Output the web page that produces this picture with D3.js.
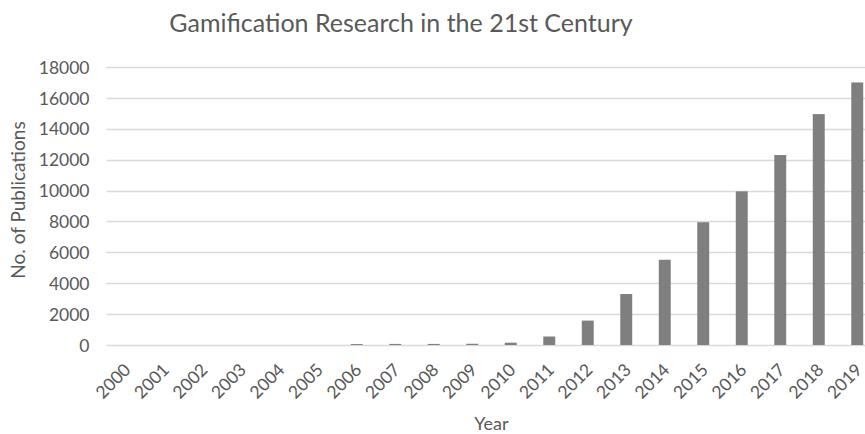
<!DOCTYPE html>
<html lang="en">
<head>
    <meta charset="UTF-8">
    <title>Gamification Research in the 21st Century</title>
    <style>
        body { margin: 0; padding: 0; overflow: hidden; background: #fff; }
        text { font-family: Lato, "Open Sans", sans-serif; fill: #595959; }
    </style>
</head>
<body>
    <script src="https://d3js.org/d3.v7.min.js"></script>
    <script>
        // Data
        const years = ["2000", "2001", "2002", "2003", "2004", "2005", "2006", "2007", "2008", "2009",
            "2010", "2011", "2012", "2013", "2014", "2015", "2016", "2017", "2018", "2019"];
        const publications = [0, 0, 0, 0, 0, 0, 60, 70, 70, 80,
            150, 550, 1580, 3300, 5520, 7950, 9950, 12300, 14950, 17000];
        const yTicks = [0, 2000, 4000, 6000, 8000, 10000, 12000, 14000, 16000, 18000];

        const width = 865;
        const height = 434;

        const svg = d3.select("body").append("svg")
            .attr("width", width)
            .attr("height", height);

        // Plot area (right side runs past the window edge, as in the reference)
        const plotLeft = 106.5, plotRight = 876.5, plotTop = 67, plotBottom = 345;

        const x = d3.scaleBand()
            .domain(years)
            .range([plotLeft, plotRight])
            .paddingInner(0.69)
            .paddingOuter(0.345);

        const y = d3.scaleLinear()
            .domain([0, 18000])
            .range([plotBottom, plotTop]);

        // Gridlines
        svg.append("g")
            .selectAll("line")
            .data(yTicks)
            .enter().append("line")
            .attr("x1", plotLeft)
            .attr("x2", plotRight)
            .attr("y1", d => Math.round(y(d)) + 0.5)
            .attr("y2", d => Math.round(y(d)) + 0.5)
            .attr("stroke", "#d9d9d9")
            .attr("stroke-width", 1.3);

        // Y axis labels
        const yAxis = svg.append("g")
            .attr("transform", `translate(${plotLeft - 17},0)`)
            .call(d3.axisLeft(y).tickValues(yTicks).tickSize(0).tickPadding(0).tickFormat(d3.format("d")));
        yAxis.select(".domain").remove();
        yAxis.selectAll("text")
            .attr("font-size", "17.5px")
            .attr("dy", "0.35em")
            .style("font-family", "Lato, sans-serif")
            .attr("fill", "#595959");

        // Bars
        svg.append("g")
            .selectAll("rect")
            .data(years)
            .enter().append("rect")
            .attr("x", d => x(d))
            .attr("width", x.bandwidth())
            .attr("y", (d, i) => y(publications[i]))
            .attr("height", (d, i) => plotBottom - y(publications[i]))
            .attr("fill", "#7f7f7f");

        // X axis labels, rotated
        const xAxis = svg.append("g")
            .attr("transform", `translate(0,${plotBottom})`)
            .call(d3.axisBottom(x).tickSize(0).tickPadding(0));
        xAxis.select(".domain").remove();
        xAxis.selectAll("text")
            .attr("font-size", "17.5px")
            .style("font-family", "Lato, sans-serif")
            .attr("fill", "#595959")
            .attr("text-anchor", "end")
            .attr("dy", 0)
            .attr("y", 0)
            .attr("transform", "translate(6,26) rotate(-45)");

        // Title
        svg.append("text")
            .attr("x", 401)
            .attr("y", 32)
            .attr("text-anchor", "middle")
            .attr("font-size", "25px")
            .text("Gamification Research in the 21st Century");

        // Axis titles
        svg.append("text")
            .attr("x", (plotLeft + plotRight) / 2)
            .attr("y", 430)
            .attr("text-anchor", "middle")
            .attr("font-size", "18px")
            .text("Year");

        svg.append("text")
            .attr("transform", "translate(25,200) rotate(-90)")
            .attr("text-anchor", "middle")
            .attr("font-size", "19px")
            .text("No. of Publications");
    </script>
</body>
</html>
